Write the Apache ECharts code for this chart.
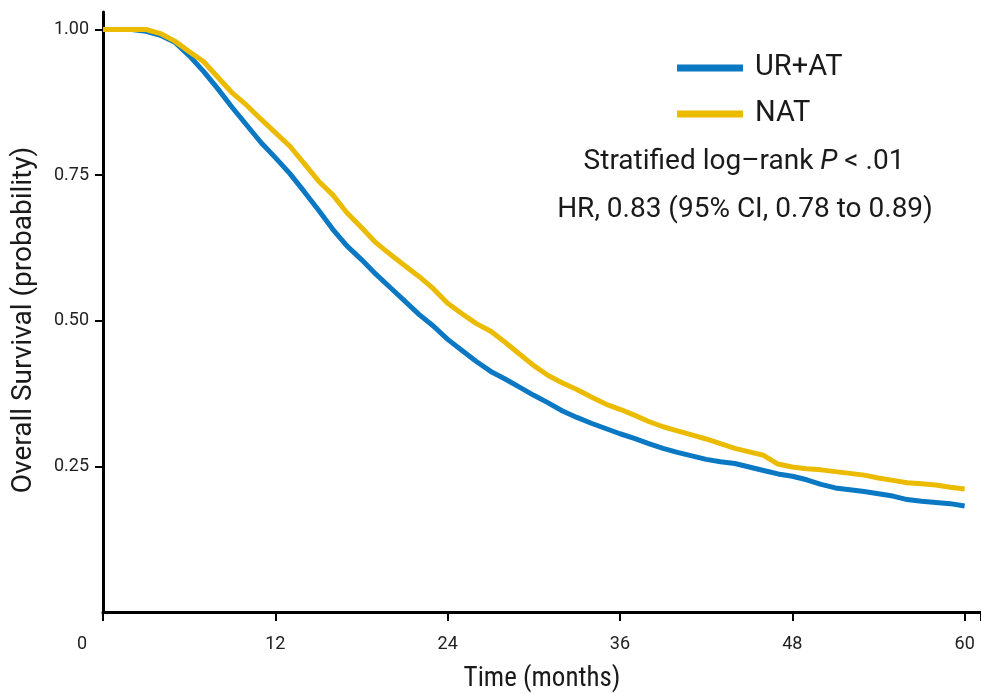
<!DOCTYPE html>
<html>
<head>
<meta charset="utf-8">
<script src="https://cdn.jsdelivr.net/npm/echarts@6/dist/echarts.min.js"></script>
<style>
html,body{margin:0;padding:0;background:#fff;}
#c{width:981px;height:694px;}
</style>
</head>
<body>
<div id="c"></div>
<script>
var NARROW = "'Liberation Sans Narrow', 'Roboto Condensed', 'Liberation Sans', Roboto, sans-serif";
var FONT = "Roboto, 'Liberation Sans', sans-serif";
var months = [0,1,2,3,4,5,6,7,8,9,10,11,12,13,14,15,16,17,18,19,20,21,22,23,24,25,26,27,28,29,30,31,32,33,34,35,36,37,38,39,40,41,42,43,44,45,46,47,48,49,50,51,52,53,54,55,56,57,58,59,60];
var urAt = [1.0,1.0,1.0,0.997,0.99,0.978,0.955,0.928,0.898,0.866,0.836,0.806,0.780,0.753,0.722,0.690,0.657,0.628,0.605,0.580,0.557,0.534,0.511,0.491,0.468,0.449,0.430,0.413,0.400,0.386,0.372,0.359,0.345,0.334,0.324,0.315,0.306,0.298,0.289,0.281,0.274,0.268,0.262,0.258,0.255,0.249,0.243,0.237,0.233,0.227,0.219,0.213,0.210,0.207,0.203,0.199,0.193,0.190,0.188,0.186,0.182];
var nat = [1.0,1.0,1.0,1.0,0.993,0.980,0.962,0.945,0.918,0.891,0.870,0.846,0.823,0.800,0.770,0.740,0.716,0.685,0.660,0.634,0.614,0.595,0.576,0.555,0.530,0.512,0.495,0.482,0.463,0.443,0.423,0.406,0.393,0.382,0.369,0.357,0.348,0.338,0.327,0.318,0.311,0.304,0.297,0.289,0.281,0.275,0.269,0.254,0.249,0.246,0.244,0.241,0.238,0.235,0.230,0.226,0.222,0.220,0.218,0.214,0.211];
var seriesNames = ['UR+AT', 'NAT'];
var xTicks = [0, 12, 24, 36, 48, 60];
var yTicks = [0.25, 0.50, 0.75, 1.00];
var annot1 = 'Stratified log\u2013rank ';
var annot2 = 'HR, 0.83 (95% CI, 0.78 to 0.89)';

function pairs(xs, ys){ return xs.map(function(x,i){ return [x, ys[i]]; }); }

var chart = echarts.init(document.getElementById('c'), null, {renderer:'canvas'});
chart.setOption({
  animation: false,
  backgroundColor: '#fff',
  grid: {left: 103, right: 0, top: 12, bottom: 82, containLabel: false, outerBoundsMode: 'none'},
  xAxis: {
    type: 'value', min: 0, max: 61.14, interval: 12,
    name: 'Time (months)', nameLocation: 'middle', nameGap: 54,
    nameTextStyle: {fontFamily: NARROW, fontSize: 27, color: '#1a1a1a'},
    axisLine: {show: true, lineStyle: {color: '#000', width: 3}},
    axisTick: {show: true, length: 9, lineStyle: {color: '#000', width: 2}},
    splitLine: {show: false},
    axisLabel: {
      margin: 23, fontFamily: FONT, fontSize: 18, color: '#222',
      formatter: function(v){ if (xTicks.indexOf(v) < 0) return ''; return v === 0 ? '{z|0}' : String(v); },
      rich: {z: {fontFamily: FONT, fontSize: 18, color: '#222', padding: [0, 42, 0, 0]}}
    }
  },
  yAxis: {
    type: 'value', min: 0, max: 1.03, interval: 0.25,
    name: 'Overall Survival (probability)', nameLocation: 'middle', nameGap: 65, nameRotate: 90,
    nameTextStyle: {fontFamily: FONT, fontSize: 28, color: '#1a1a1a', padding: [0, 16, 0, 0]},
    axisLine: {show: true, lineStyle: {color: '#000', width: 3}},
    axisTick: {show: true, length: 8, lineStyle: {color: '#000', width: 2},
      customValues: yTicks},
    splitLine: {show: false},
    axisLabel: {
      margin: 14, fontFamily: FONT, fontSize: 18, color: '#222',
      customValues: yTicks,
      formatter: function(v){ return v.toFixed(2); }
    }
  },
  legend: {
    show: true, orient: 'vertical', left: 672, top: 48,
    itemWidth: 66, itemHeight: 7, itemGap: 16, icon: 'rect',
    textStyle: {fontFamily: FONT, fontSize: 29, color: '#1a1a1a', lineHeight: 30, padding: [0,0,0,7]},
    data: seriesNames
  },
  series: [
    {name: seriesNames[0], type: 'line', data: pairs(months, urAt), showSymbol: false,
     lineStyle: {color: '#0a78c3', width: 5}, itemStyle: {color: '#0a78c3'}, z: 2},
    {name: seriesNames[1], type: 'line', data: pairs(months, nat), showSymbol: false,
     lineStyle: {color: '#ebbb00', width: 5}, itemStyle: {color: '#ebbb00'}, z: 3}
  ],
  graphic: [
    {type: 'text', x: 744, y: 162, style: {
      text: '{n|' + annot1 + '}{i|P}{n| < .01}', align: 'center', verticalAlign: 'middle',
      rich: {n: {fontFamily: FONT, fontSize: 28, fill: '#1a1a1a'}, i: {fontFamily: FONT, fontSize: 28, fontStyle: 'italic', fill: '#1a1a1a'}}
    }},
    {type: 'text', x: 745, y: 210, style: {
      text: annot2, align: 'center', verticalAlign: 'middle',
      fontFamily: FONT, fontSize: 28, fill: '#1a1a1a'
    }}
  ]
});
</script>
</body>
</html>
